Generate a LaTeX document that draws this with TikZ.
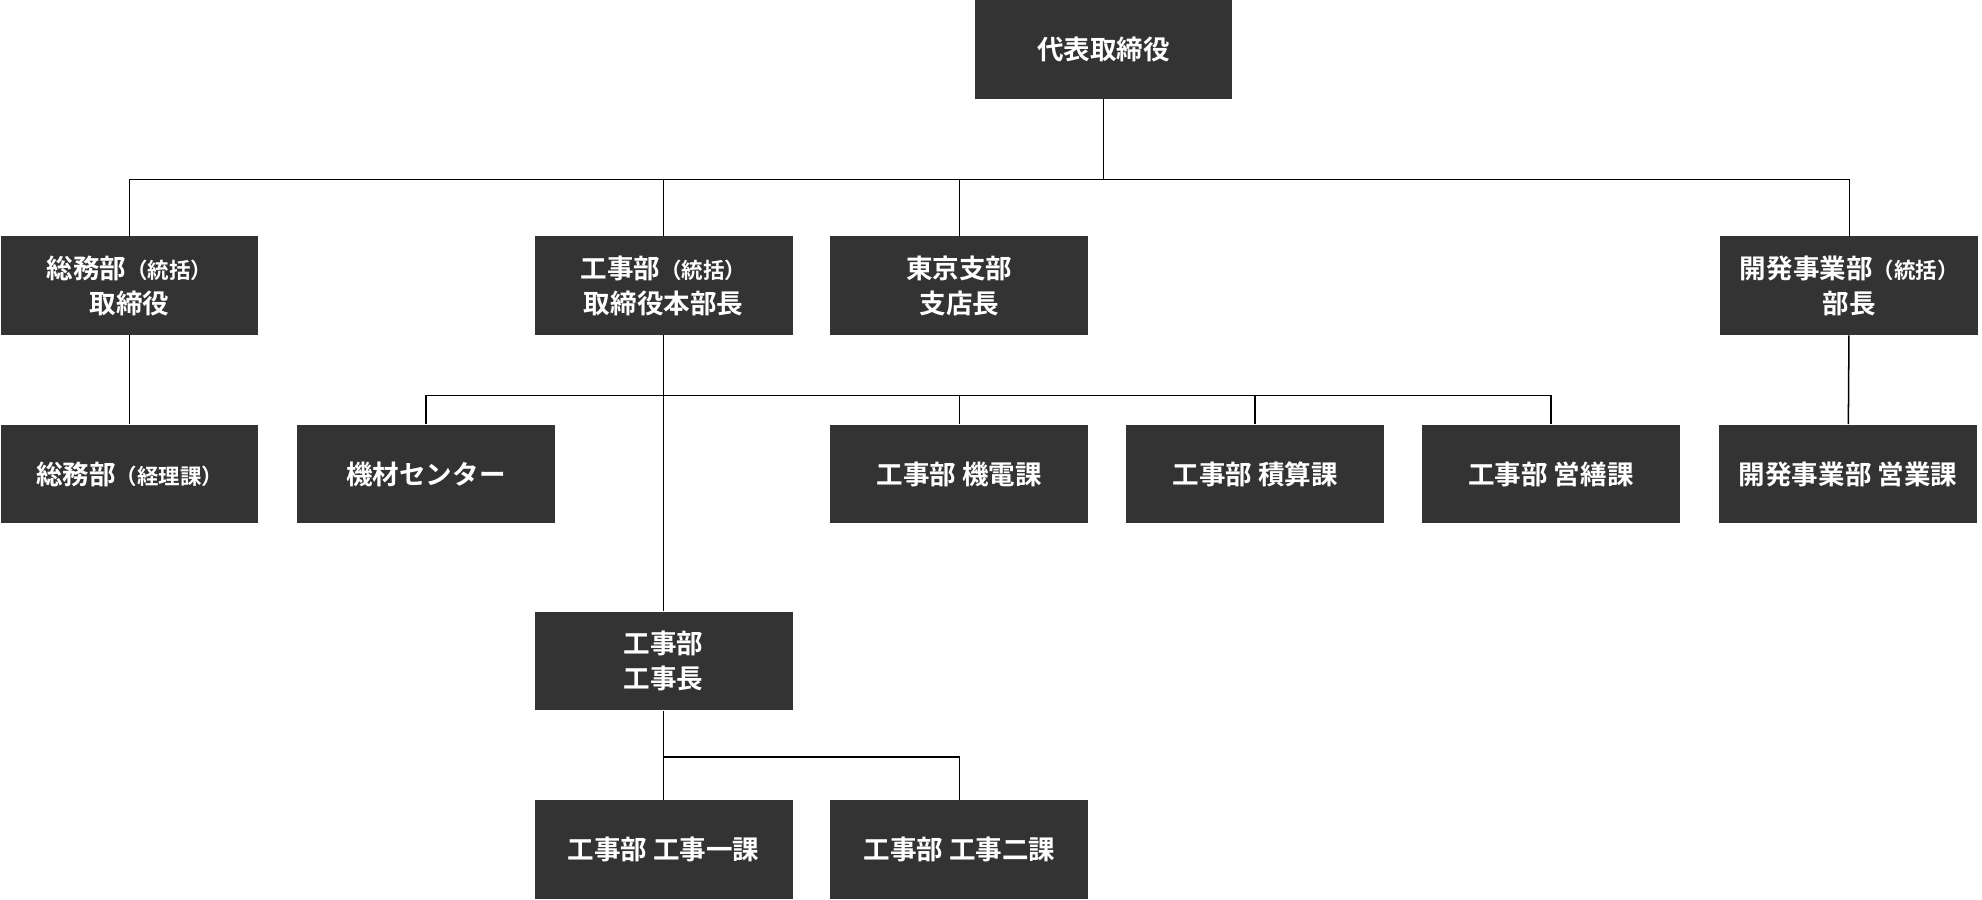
\documentclass[tikz,border=0pt]{standalone}
\usepackage{fontspec}
\setmainfont{Noto Sans CJK JP}[BoldFont={* Bold}]
\usetikzlibrary{positioning}
\definecolor{boxGray}{HTML}{333333}
\tikzset{
  unit/.style={rectangle,fill=boxGray,text=white,font=\bfseries\fontsize{10.5}{14}\selectfont,
    minimum width=102pt,minimum height=39pt,inner sep=0pt,align=center},
  link/.style={draw=black,line width=0.6pt}
}
\newcommand{\sub}[1]{{\fontsize{8.5}{14}\selectfont #1}}
\begin{document}
\begin{tikzpicture}[x=0.5pt,y=-0.5pt]
  \useasboundingbox (0,0) rectangle (1568,712);
  % top
  \node[unit] (ceo) at (873,39) {代表取締役};
  % second row
  \node[unit] (soumu) at (102.5,226) {総務部\sub{（統括）}\\取締役};
  \node[unit] (kouji) at (525,226) {工事部\sub{（統括）}\\取締役本部長};
  \node[unit] (tokyo) at (759,226) {東京支部\\支店長};
  \node[unit] (kaihatsu) at (1463,226) {開発事業部\sub{（統括）}\\部長};
  % third row
  \node[unit] (keiri) at (102.5,375) {総務部\sub{（経理課）}};
  \node[unit] (kizai) at (337,375) {機材センター};
  \node[unit] (kiden) at (759,375) {工事部 機電課};
  \node[unit] (sekisan) at (993,375) {工事部 積算課};
  \node[unit] (eizen) at (1227,375) {工事部 営繕課};
  \node[unit] (eigyou) at (1462,375) {開発事業部 営業課};
  % fourth row
  \node[unit] (kojicho) at (525,523) {工事部\\工事長};
  \node[unit] (ikka) at (525,672) {工事部 工事一課};
  \node[unit] (nika) at (759,672) {工事部 工事二課};
  % connectors
  \coordinate (busA) at (873,142);
  \coordinate (busB) at (525,313);
  \coordinate (busC) at (525,599);
  \draw[link] (ceo) -- (busA);
  \foreach \n in {soumu,kouji,tokyo,kaihatsu}
    \draw[link] (busA) -| (\n);
  \draw[link] (soumu) -- (keiri);
  \draw[link] (kaihatsu) -- (eigyou);
  \draw[link] (kouji) -- (kojicho);
  \foreach \n in {kizai,kiden,sekisan,eizen}
    \draw[link] (busB) -| (\n);
  \draw[link] (kojicho) -- (ikka);
  \draw[link] (busC) -| (nika);
\end{tikzpicture}
\end{document}
